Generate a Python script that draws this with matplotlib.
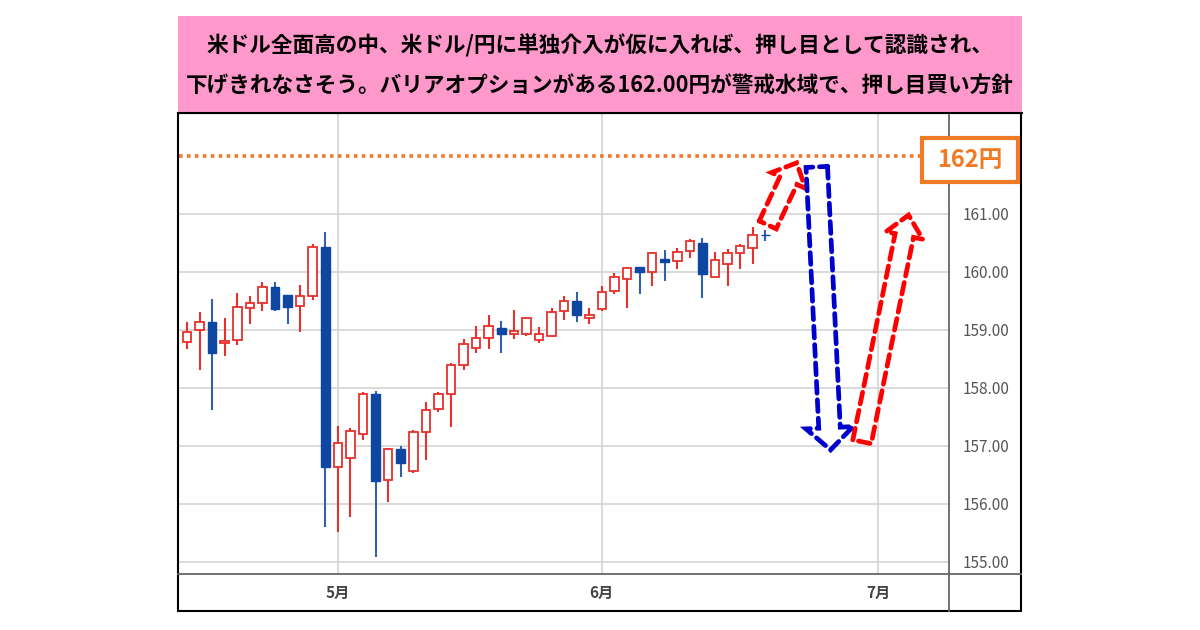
import matplotlib
matplotlib.use("Agg")
import matplotlib.pyplot as plt
import matplotlib.patches as mpatches
from matplotlib.lines import Line2D
import numpy as np

plt.rcParams['font.family'] = ['Noto Sans CJK JP', 'DejaVu Sans']

# daily USD/JPY candles
opens = [158.79, 159.00, 159.14, 158.78, 158.82, 159.38, 159.46, 159.74, 159.60, 159.41,
         159.59, 160.43, 156.63, 156.79, 157.21, 157.90, 156.41, 156.94, 156.56, 157.24,
         157.64, 157.90, 158.40, 158.68, 158.86, 159.04, 158.93, 158.93, 158.82, 158.90,
         159.33, 159.49, 159.20, 159.36, 159.67, 159.87, 160.08, 160.00, 160.22, 160.18,
         160.36, 160.49, 159.92, 160.13, 160.33, 160.41, 160.64]
highs = [159.14, 159.31, 159.53, 159.21, 159.63, 159.58, 159.83, 159.83, 159.60, 159.78,
         160.48, 160.69, 157.35, 157.31, 157.92, 157.94, 156.96, 157.00, 157.28, 157.76,
         157.93, 158.43, 158.84, 159.07, 159.25, 159.16, 159.34, 159.22, 159.05, 159.37,
         159.58, 159.65, 159.37, 159.76, 159.98, 160.08, 160.08, 160.34, 160.38, 160.42,
         160.56, 160.59, 160.35, 160.39, 160.48, 160.77, 160.72]
lows = [158.67, 158.31, 157.62, 158.55, 158.74, 159.10, 159.32, 159.32, 159.10, 158.97,
        159.52, 155.60, 155.52, 155.78, 157.10, 155.08, 156.04, 156.46, 156.54, 156.76,
        157.59, 157.33, 158.31, 158.60, 158.67, 158.60, 158.84, 158.90, 158.78, 158.87,
        159.17, 159.13, 159.10, 159.32, 159.62, 159.37, 159.62, 159.75, 159.84, 160.05,
        160.24, 159.55, 159.92, 159.76, 160.05, 160.13, 160.53]
closes = [158.97, 159.13, 158.60, 158.81, 159.39, 159.46, 159.74, 159.36, 159.40, 159.59,
          160.43, 156.63, 157.05, 157.26, 157.90, 156.40, 156.95, 156.70, 157.24, 157.62,
          157.90, 158.40, 158.76, 158.86, 159.06, 158.93, 158.98, 159.21, 158.93, 159.30,
          159.50, 159.25, 159.26, 159.66, 159.92, 160.07, 160.00, 160.32, 160.17, 160.35,
          160.53, 159.97, 160.21, 160.33, 160.45, 160.63, 160.63]

month_pos = [12, 33, 55]
month_labels = ['5月', '6月', '7月']
price_ticks = [155, 156, 157, 158, 159, 160, 161]
barrier = 162.0

# scenario arrows: (start index, start price, end index, end price)
arrow_up1 = (46.2, 160.81, 48.5, 161.88)
arrow_down = (50.1, 161.81, 51.2, 156.93)
arrow_up2 = (53.7, 157.07, 57.4, 160.98)

title1 = '米ドル全面高の中、米ドル/円に単独介入が仮に入れば、押し目として認識され、'
title2 = '下げきれなさそう。バリアオプションがある162.00円が警戒水域で、押し目買い方針'

W, H = 1200, 630
fig = plt.figure(figsize=(12, 6.3), dpi=100)


def fx(x):
    return x / W


def fy(y):
    return 1 - y / H


UP = '#e8302c'
DOWN = '#0d47a1'
DOWN_WICK = '#2f62a8'
ORANGE = '#f07a26'

ax = fig.add_axes([fx(179), fy(574), fx(949 - 179), (574 - 113) / H])
ax.set_xlim(-0.64, 60.62)
ax.set_ylim(154.79, 162.74)

o = np.array(opens)
h = np.array(highs)
l = np.array(lows)
c = np.array(closes)
idx = np.arange(len(o))
up = c >= o
dn = ~up

ax.vlines(idx[up], l[up], h[up], color=UP, lw=1.5, zorder=2)
ax.vlines(idx[dn], l[dn], h[dn], color=DOWN_WICK, lw=1.5, zorder=2)
ax.bar(idx[up], c[up] - o[up], bottom=o[up], width=0.68, facecolor='white',
       edgecolor=UP, lw=1.3, zorder=3)
ax.bar(idx[dn], o[dn] - c[dn], bottom=c[dn], width=0.68, facecolor=DOWN,
       edgecolor=DOWN, lw=1.0, zorder=3)

ax.axhline(barrier, xmin=0, xmax=(922 - 179) / (949 - 179), color=ORANGE, lw=2.6,
           linestyle=(0, (1, 1.2)), zorder=4)


def arrow(a, color, tail, head_w, head_l):
    p = mpatches.FancyArrowPatch(
        (a[0], a[1]), (a[2], a[3]),
        arrowstyle='simple,head_length=%g,head_width=%g,tail_width=%g' % (head_l, head_w, tail),
        mutation_scale=1, shrinkA=0, shrinkB=0, fill=False, edgecolor=color,
        lw=3.4, linestyle=(0, (2.5, 1.4)), joinstyle='miter', zorder=6, clip_on=False)
    ax.add_patch(p)


arrow(arrow_up1, '#ff0000', 13.5, 27, 14)
arrow(arrow_down, '#0000cc', 15.5, 34, 16)
arrow(arrow_up2, '#ff0000', 13.5, 27, 15)

ax.set_xticks(month_pos)
ax.set_xticklabels(month_labels, color='#444444', fontsize=11, fontweight='bold')
ax.yaxis.tick_right()
ax.set_yticks(price_ticks)
ax.set_yticklabels(['%.2f' % v for v in price_ticks], color='#555555', fontsize=11)
ax.tick_params(axis='both', length=0)
ax.tick_params(axis='y', pad=10)
ax.tick_params(axis='x', pad=8)
ax.grid(True, color='#d4d4d4', lw=1.2, zorder=0)
ax.set_axisbelow(True)
for s in ax.spines.values():
    s.set_visible(False)

# chart frame
fig.add_artist(Line2D([fx(178), fx(1021)], [fy(574), fy(574)], color='#666666', lw=1.3))
fig.add_artist(Line2D([fx(949), fx(949)], [fy(113), fy(611)], color='#666666', lw=1.3))
fig.add_artist(mpatches.Rectangle((fx(178), fy(611)), fx(1021 - 178), (611 - 113) / H,
                                  transform=fig.transFigure, fill=False,
                                  edgecolor='black', lw=1.5))

# title band
fig.add_artist(mpatches.Rectangle((fx(178), fy(113)), fx(1022 - 178), (113 - 16) / H,
                                  transform=fig.transFigure, facecolor='#ff99cc',
                                  edgecolor='none'))
fig.add_artist(Line2D([fx(178), fx(1022)], [fy(113), fy(113)], color='black', lw=1.5))
fig.text(0.5, fy(46), title1, ha='center', va='center', fontsize=15.6, fontweight='bold')
fig.text(0.5, fy(85), title2, ha='center', va='center', fontsize=15.6, fontweight='bold')

# 162円 label box
fig.add_artist(mpatches.Rectangle((fx(922), fy(182)), fx(1018 - 922), (182 - 138) / H,
                                  transform=fig.transFigure, facecolor='white',
                                  edgecolor=ORANGE, lw=3, zorder=10))
fig.text(fx(970), fy(160), '%d円' % barrier, ha='center', va='center', fontsize=17,
         fontweight='bold', color=ORANGE, zorder=11)

fig.savefig('out.png', dpi=100)
